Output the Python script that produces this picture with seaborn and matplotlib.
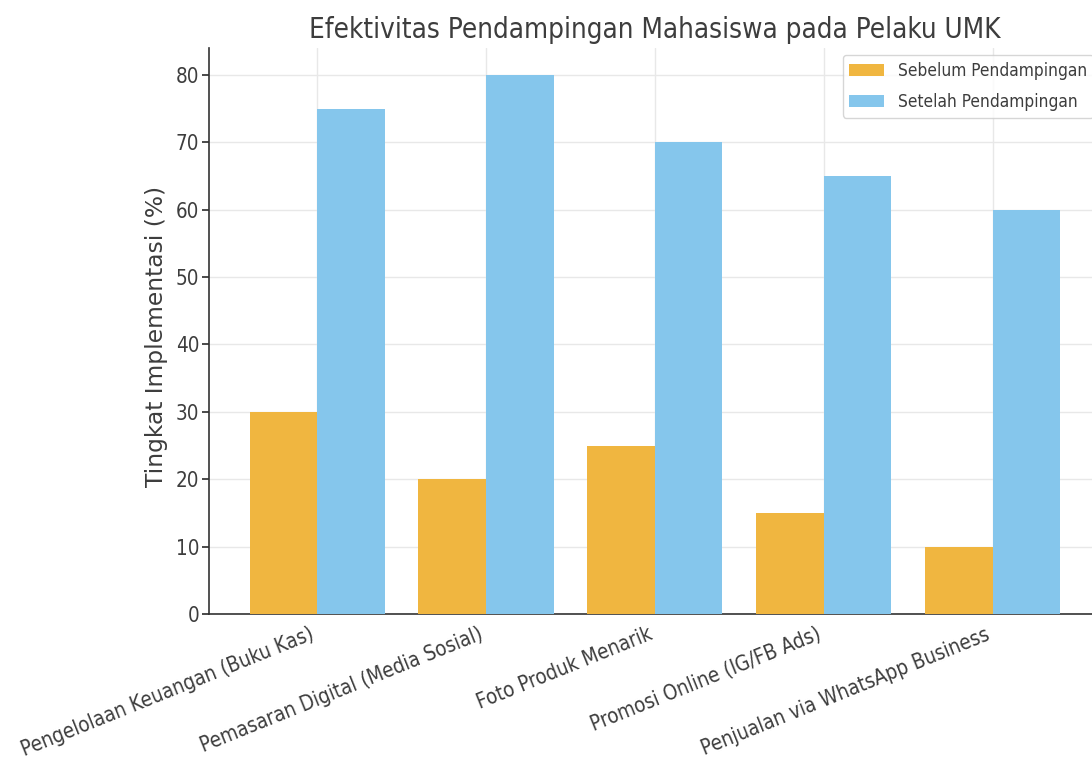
import matplotlib
matplotlib.use("Agg")
import matplotlib.pyplot as plt
import seaborn as sns
import pandas as pd

categories = [
    "Pengelolaan Keuangan (Buku Kas)",
    "Pemasaran Digital (Media Sosial)",
    "Foto Produk Menarik",
    "Promosi Online (IG/FB Ads)",
    "Penjualan via WhatsApp Business",
]
sebelum = [30, 20, 25, 15, 10]
setelah = [75, 80, 70, 65, 60]
series_names = ["Sebelum Pendampingan", "Setelah Pendampingan"]
colors = ["#F0B640", "#85C6EC"]

df = pd.DataFrame({
    "Kategori": categories * 2,
    "Nilai": sebelum + setelah,
    "Tahap": [series_names[0]] * len(categories) + [series_names[1]] * len(categories),
})

sns.set_theme(style="whitegrid")
plt.rcParams["font.family"] = ["DejaVu Sans"]
TXT = "#3d3d3d"
COND = dict(family="DejaVu Sans", stretch="condensed")

fig = plt.figure(figsize=(10.92, 7.69), dpi=100)
ax = fig.add_axes([0.1914, 0.2016, 0.8166, 0.736])

sns.barplot(data=df, x="Kategori", y="Nilai", hue="Tahap", palette=colors,
            width=0.8, saturation=1, ax=ax, zorder=3, linewidth=0)

ax.set_xlim(-0.64, 4.64)
ax.set_ylim(0, 84)
ax.set_yticks(range(0, 81, 10))
ax.grid(True, color="#e8e8e8", linewidth=1)
ax.set_axisbelow(True)
for s in ["top", "right"]:
    ax.spines[s].set_visible(False)
for s in ["left", "bottom"]:
    ax.spines[s].set_visible(True)
    ax.spines[s].set_color("#333333")
    ax.spines[s].set_linewidth(1.2)
ax.tick_params(axis="y", left=True, length=5, pad=2, color="#333333", labelcolor=TXT)
ax.tick_params(axis="x", bottom=False, pad=1.5, labelcolor=TXT)
for lbl in ax.get_yticklabels():
    lbl.set_fontsize(14.8)
    lbl.set_fontstretch("condensed")
for lbl in ax.get_xticklabels():
    lbl.set_fontsize(14.8)
    lbl.set_fontstretch("condensed")
    lbl.set_rotation(22)
    lbl.set_ha("right")
    lbl.set_rotation_mode("default")

ax.set_xlabel("")
ax.set_ylabel("Tingkat Implementasi (%)", fontsize=16.8, color=TXT)
ax.yaxis.set_label_coords(-0.046, 0.49)
ax.set_title("Efektivitas Pendampingan Mahasiswa pada Pelaku UMK",
             fontsize=19.9, color=TXT, pad=7, fontdict=COND)

leg = ax.legend(loc="upper right", frameon=True, title=None,
                prop=dict(family="DejaVu Sans", stretch="condensed", size=12.4),
                borderaxespad=0.4, labelspacing=0.75)
leg.get_frame().set_edgecolor("#cccccc")
for t in leg.get_texts():
    t.set_color(TXT)

fig.savefig("out.png", dpi=100)
